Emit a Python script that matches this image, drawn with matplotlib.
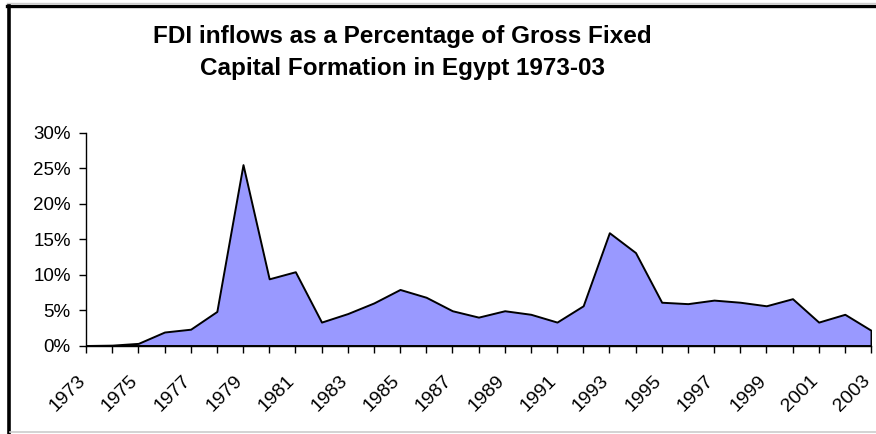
import matplotlib.pyplot as plt
from matplotlib.lines import Line2D
from matplotlib.ticker import FuncFormatter
from matplotlib.transforms import ScaledTranslation

plt.rcParams['font.family'] = ['Liberation Sans', 'DejaVu Sans']

# FDI inflows as % of gross fixed capital formation, Egypt
years = list(range(1973, 2004))
fdi_pct = [0.0, 0.05, 0.3, 1.9, 2.3, 4.8, 25.5, 9.4, 10.4, 3.3,
           4.5, 6.0, 7.9, 6.8, 4.9, 4.0, 4.9, 4.4, 3.3, 5.6,
           15.9, 13.1, 6.1, 5.9, 6.4, 6.1, 5.6, 6.6, 3.3, 4.4, 2.15]
year_labels = [str(y) if (y - 1973) % 2 == 0 else '' for y in years]

W, H = 876, 434
fig = plt.figure(figsize=(W / 100, H / 100), dpi=100)
ax = fig.add_axes([86 / W, (H - 345.5) / H, (871 - 86) / W, (345.5 - 132.7) / H])

ax.fill_between(years, fdi_pct, 0, facecolor='#9999ff', edgecolor='black',
                linewidth=1.4, zorder=2)

ax.set_xlim(1973, 2003)
ax.set_ylim(0, 30)
ax.set_yticks(range(0, 31, 5))
ax.yaxis.set_major_formatter(FuncFormatter(lambda v, p: f"{v:.0f}%"))
ax.set_xticks(years)
ax.set_xticklabels(year_labels, rotation=45, ha='right', va='top',
                   rotation_mode='anchor')

ax.tick_params(axis='both', direction='out', length=5, width=1.0,
               color='black', labelsize=13.5, labelcolor='black')
ax.tick_params(axis='y', pad=6)
ax.tick_params(axis='x', pad=14, labelsize=14)

# shift rotated year labels a little to the left, like the original
shift = ScaledTranslation(-9 / 100, 0, fig.dpi_scale_trans)
for lab in ax.get_xticklabels():
    lab.set_transform(lab.get_transform() + shift)

for s in ['top', 'right']:
    ax.spines[s].set_visible(False)
for s in ['left', 'bottom']:
    ax.spines[s].set_linewidth(1.0)
    ax.spines[s].set_color('black')
ax.set_facecolor('none')

fig.text(402 / W, 1 - 36 / H, "FDI inflows as a Percentage of Gross Fixed",
         ha='center', va='center', fontsize=17.5, fontweight='bold')
fig.text(402 / W, 1 - 68 / H, "Capital Formation in Egypt 1973-03",
         ha='center', va='center', fontsize=17.5, fontweight='bold')

# outer frame lines
fig.add_artist(Line2D([7 / W, 1], [1 - 6 / H, 1 - 6 / H], color='black', linewidth=2.4))
fig.add_artist(Line2D([7 / W, 1], [1 - 3 / H, 1 - 3 / H], color='#cccccc', linewidth=1))
fig.add_artist(Line2D([9 / W, 9 / W], [1 - 6 / H, 0], color='black', linewidth=2.6))
fig.add_artist(Line2D([10 / W, 1], [2 / H, 2 / H], color='#cccccc', linewidth=1.2))

fig.savefig('out.png', dpi=100)
